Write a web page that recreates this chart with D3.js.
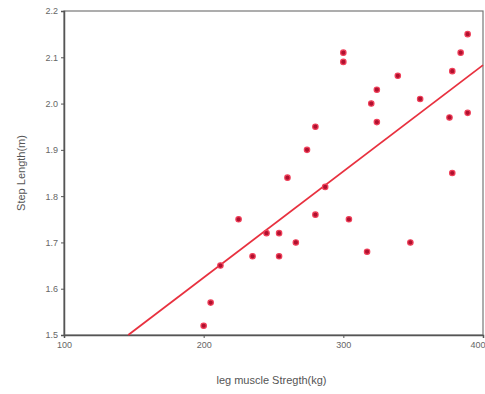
<!DOCTYPE html>
<html><head><meta charset="utf-8">
<script src="https://cdn.jsdelivr.net/npm/d3@7"></script>
<style>body{margin:0;background:#fff}svg{display:block}</style>
</head><body>
<script>
const strength = [200,205,212,225,235,245,254,254,266,260,274,280,280,287,300,300,304,317,320,324,324,339,355,348,376,378,378,384,389,389];
const stepLength = [1.52,1.57,1.65,1.75,1.67,1.72,1.72,1.67,1.70,1.84,1.90,1.95,1.76,1.82,2.11,2.09,1.75,1.68,2.00,2.03,1.96,2.06,2.01,1.70,1.97,2.07,1.85,2.11,1.98,2.15];
const xTicks = [100,200,300,400];
const yTicks = [1.5,1.6,1.7,1.8,1.9,2.0,2.1,2.2];
const fitIntercept = 1.165, fitSlope = 0.002295;

const W=485,H=394, L=64,T=11,R=483,B=335;
const svg=d3.select("body").append("svg").attr("width",W).attr("height",H);
const x=d3.scaleLinear().domain([100,400]).range([L,R]);
const y=d3.scaleLinear().domain([1.5,2.2]).range([B,T]);

// box
svg.append("rect").attr("x",L).attr("y",T).attr("width",R-L).attr("height",B-T)
  .attr("fill","none").attr("stroke","#777").attr("stroke-width",1.2);

const gx=svg.append("g").attr("transform",`translate(0,${B})`)
  .call(d3.axisBottom(x).tickValues(xTicks).tickSize(3).tickPadding(4).tickFormat(d3.format("d")));
const gy=svg.append("g").attr("transform",`translate(${L},0)`)
  .call(d3.axisLeft(y).tickValues(yTicks).tickSize(3).tickPadding(3).tickFormat(d3.format(".1f")));
[gx,gy].forEach(g=>{
  g.select(".domain").attr("stroke","#555").attr("stroke-width",1.5);
  g.selectAll(".tick line").attr("stroke","#555");
  g.selectAll("text").attr("fill","#666").attr("font-family","Liberation Sans, Arial, sans-serif").attr("font-size",9);
});
gx.selectAll(".tick").filter(d=>d===400).select("text").attr("text-anchor","end").attr("x",2);

// fit line
const x0 = (1.5-fitIntercept)/fitSlope;
svg.append("line").attr("x1",x(x0)).attr("y1",y(fitIntercept+fitSlope*x0))
  .attr("x2",x(400)).attr("y2",y(fitIntercept+fitSlope*400))
  .attr("stroke","#e8313f").attr("stroke-width",1.8);

// points
svg.append("g").selectAll("circle").data(strength).join("circle")
  .attr("cx",(d)=>x(d)).attr("cy",(d,i)=>y(stepLength[i])).attr("r",2.7)
  .attr("fill","#b0102e").attr("stroke","#f0405a").attr("stroke-width",1.2);

svg.append("text").attr("x",(L+R)/2-2).attr("y",384).attr("text-anchor","middle")
  .attr("font-family","Liberation Sans, Arial, sans-serif").attr("font-size",11).attr("fill","#555")
  .text("leg muscle Stregth(kg)");
svg.append("text").attr("transform",`translate(25,${(T+B)/2}) rotate(-90)`).attr("text-anchor","middle")
  .attr("font-family","Liberation Sans, Arial, sans-serif").attr("font-size",11).attr("fill","#555")
  .text("Step Length(m)");
</script>
</body></html>
